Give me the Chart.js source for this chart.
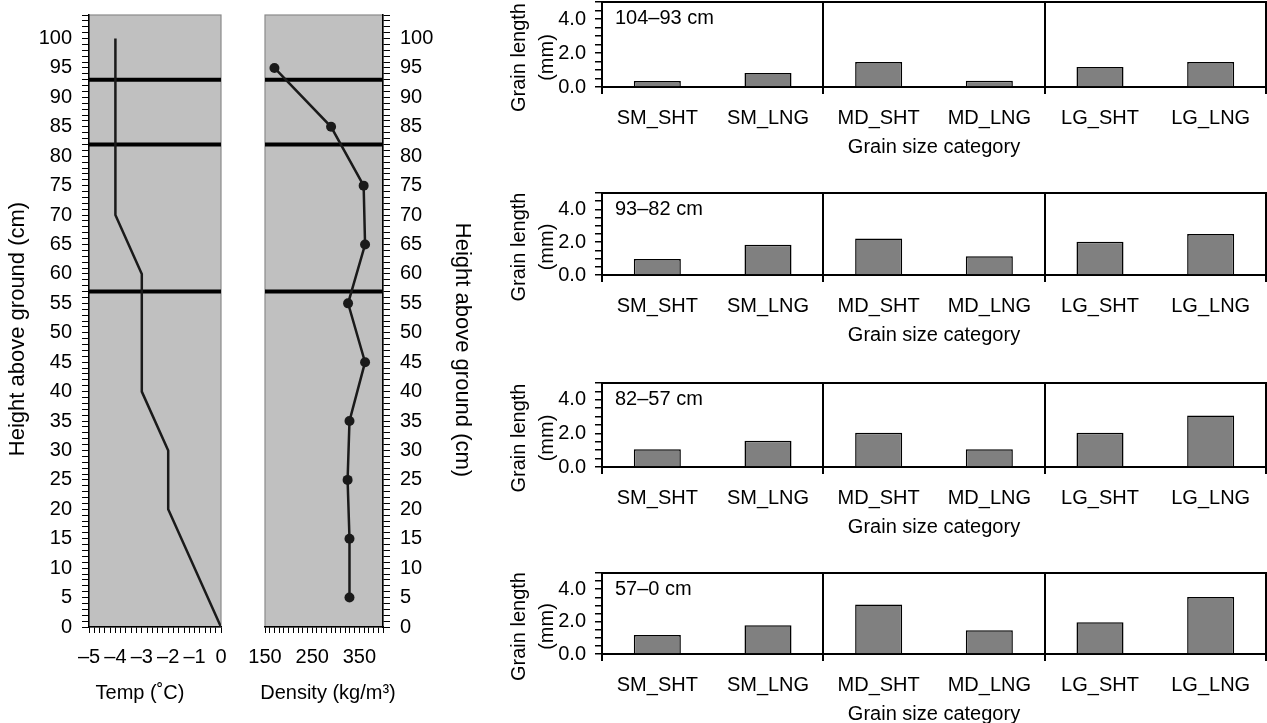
<!DOCTYPE html>
<html lang="en">
<head>
<meta charset="UTF-8">
<title>Snow profile and grain length</title>
<script src="https://cdn.jsdelivr.net/npm/chart.js"></script>
<style>
  body { margin: 0; background: #fff; overflow: hidden; }
  canvas { position: absolute; }
</style>
</head>
<body>
<canvas id="tempChart" style="left:0px;top:0px" width="240" height="723"></canvas>
<canvas id="densChart" style="left:240px;top:0px" width="235" height="723"></canvas>
<canvas id="grain1" style="left:500px;top:0px" width="767" height="159"></canvas>
<canvas id="grain2" style="left:500px;top:191px" width="767" height="156"></canvas>
<canvas id="grain3" style="left:500px;top:381px" width="767" height="158"></canvas>
<canvas id="grain4" style="left:500px;top:571px" width="767" height="155"></canvas>

<script>
// ---- data ----
const tempHeights = [100, 70, 60, 40, 30, 20, 0];
const tempValues = [-4, -4, -3, -3, -2, -2, 0];

const densityHeights = [95, 85, 75, 65, 55, 45, 35, 25, 15, 5];
const densityValues = [170, 290, 359, 362, 326, 362, 329, 325, 329, 329];

const layerBounds = [93, 82, 57];

const categories = ['SM_SHT', 'SM_LNG', 'MD_SHT', 'MD_LNG', 'LG_SHT', 'LG_LNG'];
const depthLabels = ['104\u201393 cm', '93\u201382 cm', '82\u201357 cm', '57\u20130 cm'];
const grain1 = [0.35, 0.83, 1.47, 0.37, 1.18, 1.47];
const grain2 = [0.97, 1.84, 2.22, 1.15, 2.02, 2.50];
const grain3 = [1.05, 1.56, 2.04, 1.05, 2.04, 3.07];
const grain4 = [1.17, 1.77, 3.06, 1.46, 1.96, 3.52];

// axis ranges
const heightMax = 104;
const tempMin = -5, tempMax = 0;
const densMin = 150, densMax = 400;
const grainMax = 5;

Chart.defaults.font.family = '"Liberation Sans", Arial, Helvetica, sans-serif';
Chart.defaults.font.size = 20;
Chart.defaults.color = '#000';

const FONT = '"Liberation Sans", Arial, Helvetica, sans-serif';

// fixed axis box, no extra label padding
function fixBox(w, h) {
  return s => {
    if (w) s.width = w;
    if (h) s.height = h;
    s.paddingTop = s.paddingBottom = s.paddingLeft = s.paddingRight = 0;
  };
}

// gray plot background with thin edge
const panelBg = {
  id: 'panelBg',
  beforeDraw(chart, args, opts) {
    const { ctx, chartArea: a } = chart;
    ctx.save();
    ctx.fillStyle = opts.fill;
    ctx.fillRect(a.left, a.top, a.right - a.left, a.bottom - a.top);
    ctx.strokeStyle = opts.edge;
    ctx.lineWidth = 1.2;
    ctx.strokeRect(a.left, a.top, a.right - a.left, a.bottom - a.top);
    ctx.restore();
  }
};

// black frame round the bar panels
const frame = {
  id: 'frame',
  beforeDatasetsDraw(chart) {
    const { ctx, chartArea: a } = chart;
    ctx.save();
    ctx.strokeStyle = '#000';
    ctx.lineWidth = 2;
    ctx.strokeRect(a.left, a.top, a.right - a.left, a.bottom - a.top);
    ctx.restore();
  }
};

// depth label in the top-left corner
const cornerLabel = {
  id: 'cornerLabel',
  afterDatasetsDraw(chart, args, opts) {
    const { ctx, chartArea: a } = chart;
    ctx.save();
    ctx.font = '20px ' + FONT;
    ctx.fillStyle = '#000';
    ctx.textBaseline = 'middle';
    ctx.fillText(opts.text, a.left + 13, a.top + 16);
    ctx.restore();
  }
};

// axis titles placed by hand (rotated or not)
const texts = {
  id: 'texts',
  afterDraw(chart, args, opts) {
    const { ctx, chartArea: a } = chart;
    opts.items.forEach(it => {
      const base = it.anchor === 'bottom' ? a.bottom : (a.top + a.bottom) / 2;
      ctx.save();
      ctx.font = it.size + 'px ' + FONT;
      ctx.fillStyle = '#000';
      ctx.textAlign = 'center';
      ctx.textBaseline = 'middle';
      ctx.translate(it.x, base + it.dy);
      ctx.rotate(it.angle * Math.PI / 180);
      it.lines.forEach((t, i) => ctx.fillText(t, 0, i * it.lineHeight));
      ctx.restore();
    });
  }
};

function boundSets(xmin, xmax) {
  return layerBounds.map(b => ({
    data: [{ x: xmin, y: b }, { x: xmax, y: b }],
    showLine: true, borderColor: '#000', borderWidth: 4, pointRadius: 0, borderCapStyle: 'butt'
  }));
}

function heightAxis(position) {
  return {
    position: position,
    min: 0, max: heightMax,
    grid: { drawOnChartArea: false, color: '#000', tickLength: 7, lineWidth: 1 },
    border: { color: '#000', width: 1.5 },
    ticks: {
      stepSize: 1, autoSkip: false, maxTicksLimit: 1000, padding: 10,
      callback: v => v % 5 === 0 ? String(v) : ''
    },
    afterFit: fixBox(position === 'left' ? 89 : 92, 0)
  };
}

// ---- temperature ----
new Chart(document.getElementById('tempChart'), {
  type: 'scatter',
  data: {
    datasets: [{
      data: tempHeights.map((h, i) => ({ x: tempValues[i], y: h })),
      showLine: true, borderColor: '#1a1a1a', borderWidth: 2.5, pointRadius: 0
    }].concat(boundSets(tempMin, tempMax))
  },
  options: {
    responsive: false, animation: false,
    layout: { autoPadding: false, padding: { top: 15, right: 19 } },
    plugins: {
      legend: { display: false }, tooltip: { enabled: false },
      panelBg: { fill: '#c0c0c0', edge: '#8a8a8a' },
      texts: { items: [
        { lines: ['Height above ground (cm)'], x: 18, anchor: 'mid', dy: 8, angle: -90, lineHeight: 24, size: 22 },
        { lines: ['Temp (\u02DAC)'], x: 140, anchor: 'bottom', dy: 66, angle: 0, lineHeight: 24, size: 20 }
      ] }
    },
    scales: {
      x: {
        type: 'linear', min: tempMin, max: tempMax,
        grid: { drawOnChartArea: false, color: '#000', tickLength: 6 },
        border: { color: '#000', width: 1.5 },
        ticks: {
          stepSize: 0.2, autoSkip: false, maxTicksLimit: 1000, padding: 12, maxRotation: 0,
          callback: v => {
            const r = Math.round(v * 1000) / 1000;
            if (!Number.isInteger(r)) return '';
            return r === 0 ? '0' : '\u2013' + Math.abs(r);
          }
        },
        afterFit: fixBox(0, 96)
      },
      y: heightAxis('left')
    }
  },
  plugins: [panelBg, texts]
});

// ---- density ----
new Chart(document.getElementById('densChart'), {
  type: 'scatter',
  data: {
    datasets: [{
      data: densityHeights.map((h, i) => ({ x: densityValues[i], y: h })),
      showLine: true, borderColor: '#1a1a1a', borderWidth: 2.5,
      pointRadius: 5, pointBackgroundColor: '#1a1a1a', pointBorderWidth: 0
    }].concat(boundSets(densMin, densMax))
  },
  options: {
    responsive: false, animation: false,
    layout: { autoPadding: false, padding: { top: 15, left: 25 } },
    plugins: {
      legend: { display: false }, tooltip: { enabled: false },
      panelBg: { fill: '#c0c0c0', edge: '#8a8a8a' },
      texts: { items: [
        { lines: ['Height above ground (cm)'], x: 222, anchor: 'mid', dy: 29, angle: 90, lineHeight: 24, size: 22 },
        { lines: ['Density (kg/m\u00B3)'], x: 88, anchor: 'bottom', dy: 66, angle: 0, lineHeight: 24, size: 20 }
      ] }
    },
    scales: {
      x: {
        type: 'linear', min: densMin, max: densMax,
        grid: { drawOnChartArea: false, color: '#000', tickLength: 6 },
        border: { color: '#000', width: 1.5 },
        ticks: {
          stepSize: 10, autoSkip: false, maxTicksLimit: 1000, padding: 12, maxRotation: 0,
          callback: v => (v - densMin) % 100 === 0 ? String(v) : ''
        },
        afterFit: fixBox(0, 96)
      },
      y: heightAxis('right')
    }
  },
  plugins: [panelBg, texts]
});

// ---- grain length panels ----
function grainChart(id, values, depth) {
  return new Chart(document.getElementById(id), {
    type: 'bar',
    data: {
      labels: categories,
      datasets: [{
        data: values, backgroundColor: '#808080', borderColor: '#000', borderWidth: 1.5,
        barPercentage: 0.425, categoryPercentage: 1
      }]
    },
    options: {
      responsive: false, animation: false,
      layout: { autoPadding: false, padding: { top: 2, right: 1 } },
      plugins: {
        legend: { display: false }, tooltip: { enabled: false },
        cornerLabel: { text: depth },
        texts: { items: [
          { lines: ['Grain length', '(mm)'], x: 19, anchor: 'mid', dy: 13, angle: -90, lineHeight: 28, size: 20 }
        ] }
      },
      scales: {
        x: {
          grid: {
            offset: true, lineWidth: 2, tickLength: 7,
            color: c => (c.index === undefined || c.index % 2 === 0) ? '#000' : 'rgba(0,0,0,0)'
          },
          border: { color: '#000', width: 2 },
          ticks: { padding: 12, autoSkip: false, maxRotation: 0 },
          title: { display: true, text: 'Grain size category', padding: { top: 0, bottom: 0 } },
          afterFit: fixBox(0, 72)
        },
        y: {
          min: 0, max: grainMax,
          grid: { drawOnChartArea: false, color: '#000', tickLength: 7, lineWidth: 1.5 },
          border: { color: '#000', width: 2 },
          ticks: {
            stepSize: 0.5, autoSkip: false, padding: 9,
            callback: v => v % 2 === 0 ? v.toFixed(1) : ''
          },
          afterFit: fixBox(102, 0)
        }
      }
    },
    plugins: [frame, cornerLabel, texts]
  });
}

grainChart('grain1', grain1, depthLabels[0]);
grainChart('grain2', grain2, depthLabels[1]);
grainChart('grain3', grain3, depthLabels[2]);
grainChart('grain4', grain4, depthLabels[3]);
</script>
</body>
</html>
